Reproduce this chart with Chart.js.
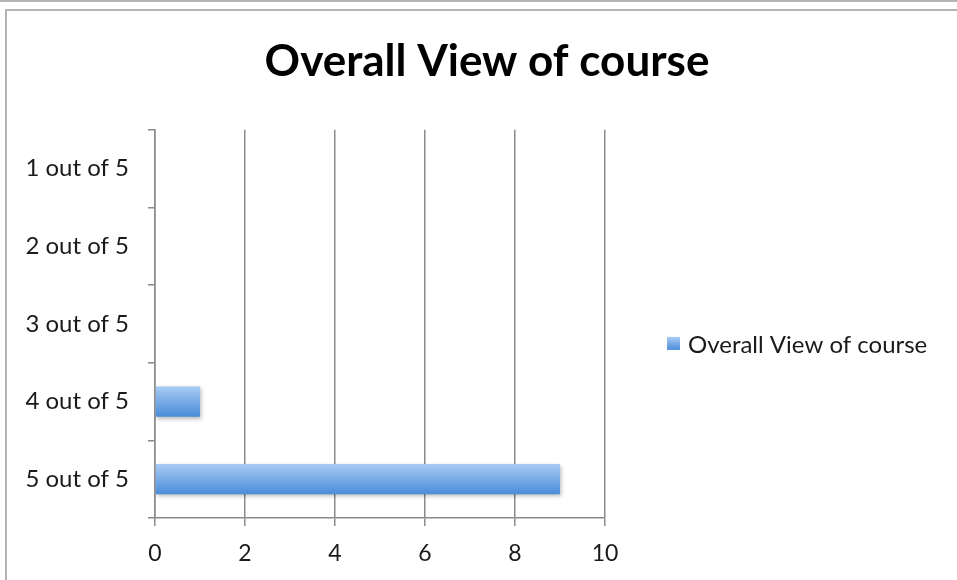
<!DOCTYPE html>
<html>
<head>
<meta charset="utf-8">
<title>Overall View of course</title>
<script src="https://cdn.jsdelivr.net/npm/chart.js@4.4.1/dist/chart.umd.min.js"></script>
<style>
  body { margin: 0; background: #fff; }
  #wrap { position: relative; width: 957px; height: 580px; overflow: hidden; }
  #topLine { position: absolute; left: 0; top: 0; width: 957px; height: 2px; background: #b4b4b4; }
  #frame { position: absolute; left: 5px; top: 9px; width: 960px; height: 600px;
           border-top: 2px solid #b4b4b4; border-left: 2px solid #b4b4b4; }
  canvas { position: absolute; left: 0; top: 0; }
</style>
</head>
<body>
<div id="wrap">
  <div id="topLine"></div>
  <div id="frame"></div>
  <canvas id="myChart" width="957" height="580"></canvas>
</div>
<script>
// datos del gráfico
const categories = ["1 out of 5", "2 out of 5", "3 out of 5", "4 out of 5", "5 out of 5"];
const values = [0, 0, 0, 1, 9];
const seriesName = "Overall View of course";
const xTicks = [0, 2, 4, 6, 8, 10];

const textColor = "#1a1a1a";
const gridColor = "#8a8a8a";
const barPct = 0.39;

function makeGradient(c, top, bottom) {
  const g = c.createLinearGradient(0, top, 0, bottom);
  g.addColorStop(0, "#a9cbf5");
  g.addColorStop(1, "#4a8cd8");
  return g;
}

// degradado de cada barra (claro arriba, oscuro abajo)
function barGradient(context) {
  const chart = context.chart;
  const area = chart.chartArea;
  if (!area || context.type !== "data") return "#6fa6e6";
  const y = chart.scales.y.getPixelForValue(context.dataIndex);
  const half = (area.height / categories.length) * barPct / 2;
  return makeGradient(chart.ctx, y - half, y + half);
}

// sombra suave bajo las barras
const barShadow = {
  id: "barShadow",
  beforeDatasetDraw(chart) {
    const c = chart.ctx;
    c.save();
    c.shadowColor = "rgba(0,0,0,0.28)";
    c.shadowBlur = 4;
    c.shadowOffsetX = 1;
    c.shadowOffsetY = 2;
  },
  afterDatasetDraw(chart) {
    chart.ctx.restore();
  },
};

// leyenda a la derecha del área del gráfico
const sideLegend = {
  id: "sideLegend",
  afterDraw(chart) {
    const c = chart.ctx;
    const area = chart.chartArea;
    const x = area.right + 62;
    const y = (area.top + area.bottom) / 2 + 20;
    c.save();
    c.fillStyle = makeGradient(c, y - 7, y + 6);
    c.fillRect(x, y - 7, 13, 13);
    c.font = "24px Lato";
    c.fillStyle = textColor;
    c.textBaseline = "middle";
    c.textAlign = "left";
    c.fillText(chart.data.datasets[0].label, x + 21, y + 1);
    c.restore();
  },
};

const ctx = document.getElementById("myChart").getContext("2d");

window.myChart = new Chart(ctx, {
  type: "bar",
  data: {
    labels: categories,
    datasets: [
      {
        label: seriesName,
        data: values,
        backgroundColor: barGradient,
        borderWidth: 0,
        barPercentage: barPct,
        categoryPercentage: 1,
      },
    ],
  },
  plugins: [barShadow, sideLegend],
  options: {
    indexAxis: "y",
    responsive: false,
    animation: false,
    devicePixelRatio: 1,
    layout: {
      padding: { left: 17, right: 0, top: 0, bottom: 0 },
    },
    scales: {
      x: {
        min: 0,
        max: 10,
        afterBuildTicks: (axis) => {
          axis.ticks = xTicks.map((v) => ({ value: v }));
        },
        afterFit: (axis) => {
          axis.height = 62;
        },
        grid: {
          color: gridColor,
          lineWidth: 1.5,
          tickLength: 8,
        },
        border: { color: gridColor, width: 1.5 },
        ticks: {
          color: textColor,
          padding: 14,
          font: { family: "Lato", size: 23 },
        },
      },
      y: {
        afterFit: (axis) => {
          axis.width = 138;
        },
        grid: {
          drawOnChartArea: false,
          color: gridColor,
          lineWidth: 1.5,
          tickLength: 7,
          offset: true,
        },
        border: { color: gridColor, width: 1.5 },
        ticks: {
          color: textColor,
          padding: 19,
          font: { family: "Lato", size: 24 },
        },
      },
      // eje vacío a la derecha: reserva el espacio de la leyenda
      legendSpace: {
        type: "category",
        labels: categories,
        position: "right",
        afterFit: (axis) => {
          axis.width = 352;
        },
        grid: { display: false },
        border: { display: false },
        ticks: { display: false },
      },
    },
    plugins: {
      title: {
        display: true,
        text: "Overall View of course",
        color: "#000",
        font: { family: "Lato", size: 44, weight: "bold", lineHeight: 1.2 },
        padding: { top: 35, bottom: 42 },
      },
      legend: { display: false },
      tooltip: { enabled: false },
    },
  },
});
</script>
</body>
</html>
